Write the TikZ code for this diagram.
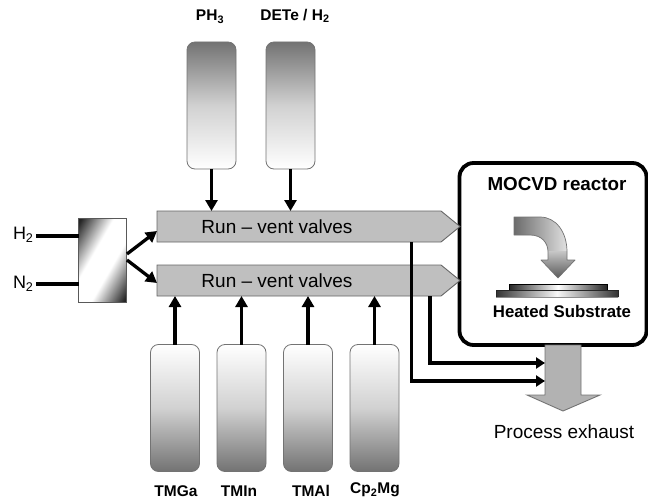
\documentclass[tikz,border=0pt]{standalone}
\usepackage{fontspec}
\setmainfont{Liberation Sans}
\usetikzlibrary{arrows.meta}
\pgfdeclarehorizontalshading{mixshade}{100bp}{color(0bp)=(black);color(18bp)=(black!85);color(41bp)=(white);color(59bp)=(white);color(82bp)=(black!85);color(100bp)=(black)}
\tikzset{
  every node/.style={inner sep=0pt,outer sep=0pt},
  bottle/.style={draw=black!55,line width=0.8pt,rounded corners=8pt,minimum width=49pt,minimum height=127pt},
  topbottle/.style={bottle,top color=black!55,bottom color=white,middle color=black!18},
  botbottle/.style={bottle,top color=white,bottom color=black!55,middle color=black!18},
  pipe/.style={line width=3.3pt,-{Triangle[length=11pt,width=12pt]}},
  plain/.style={line width=3.3pt},
  thinpipe/.style={line width=3.2pt,-{Triangle[length=9pt,width=11pt]}},
  valvebody/.style={minimum width=284pt,minimum height=31pt},
  valvefill/.style={fill=black!25,draw=black!60,line width=0.9pt},
  lab/.style={font=\fontsize{15.5}{18}\selectfont\bfseries},
  biglab/.style={font=\fontsize{19}{22}\selectfont},
  gaslab/.style={font=\fontsize{18}{22}\selectfont},
}
\begin{document}
\begin{tikzpicture}[x=1pt,y=-1pt]
\useasboundingbox (0,0) rectangle (648,500);
% reactor
\node[draw=black,line width=3.8pt,rounded corners=14pt,fill=white,minimum width=187pt,minimum height=182pt] (reactor) at (553,254) {};
\node[font=\fontsize{18.8}{22}\selectfont\bfseries] (rlab) at (557,184) {MOCVD reactor};
\node[font=\fontsize{16.8}{20}\selectfont\bfseries] (hlab) at (562,311) {Heated Substrate};
% curved arrow
\shade[left color=black!58,right color=black!12,draw=none]
 (514,217) -- (540,217) .. controls (556,217) and (567,232) .. (567,252) -- (548,252)
 .. controls (548,243) and (542,235) .. (530,235) -- (514,235) -- cycle;
\shade[top color=black!22,bottom color=black!65,draw=none]
 (548,251) -- (567,251) -- (567,260) -- (575,260) -- (558,278) -- (541,260) -- (548,260) -- cycle;
\draw[black!55,line width=0.7pt,line join=round]
 (514,217) -- (540,217) .. controls (556,217) and (567,232) .. (567,252) -- (567,260) -- (575,260) -- (558,278) -- (541,260) -- (548,260) -- (548,252)
 .. controls (548,243) and (542,235) .. (530,235) -- (514,235) -- cycle;
\shade[left color=black!85,right color=black!85,middle color=white,draw=none] (509,284) rectangle (607,290);
\draw[black,line width=0.8pt] (509,290) -- (509,284) -- (607,284) -- (607,290);
\shade[left color=black!80,right color=black!80,middle color=black!3,draw=none] (496,290) rectangle (618,297);
\draw[black!85,line width=0.8pt] (496,290) -- (618,290) (496,290) -- (496,297) (618,290) -- (618,297);
\draw[black!45,line width=0.5pt] (496,297) -- (618,297);
% gases / mixer
\node[draw=black!65,line width=0.9pt,minimum width=48pt,minimum height=84pt,shading=mixshade,shading angle=-30] (mix) at (102.5,260) {};
\node[gaslab,anchor=west] (h) at (13,235) {H\textsubscript{2}};
\node[gaslab,anchor=west] (n) at (13,284) {N\textsubscript{2}};
\coordinate (hend) at (36,236);
\coordinate (nend) at (36,284);
\draw[plain] (hend) -- (hend -| mix.west);
\draw[plain] (nend) -- (nend -| mix.west);
% valves
\node[valvebody] (v1) at (299,226.5) {};
\node[valvebody] (v2) at (299,280.5) {};
\draw[valvefill] (v1.north west) -- (v1.north east) -- ++(19,15.5) -- (v1.south east) -- (v1.south west) -- cycle;
\draw[valvefill] (v2.north west) -- (v2.north east) -- ++(19,15.5) -- (v2.south east) -- (v2.south west) -- cycle;
\node[biglab] (v1t) at (277,227) {Run – vent valves};
\node[biglab] (v2t) at (277,281) {Run – vent valves};
\coordinate (mu) at (127,254);
\coordinate (ml) at (127,260);
\coordinate (vu) at (157,231);
\coordinate (vl) at (157,283);
\draw[pipe] (mu) -- (vu);
\draw[pipe] (ml) -- (vl);
% bottles
\node[topbottle] (ph) at (211.5,105.5) {};
\node[topbottle] (de) at (290.5,105.5) {};
\node[botbottle] (ga) at (175,408) {};
\node[botbottle] (in) at (241.5,408) {};
\node[botbottle] (al) at (308,408) {};
\node[botbottle] (mg) at (374.5,408) {};
\node[lab] (phl) at (210,17) {PH\textsubscript{3}};
\node[lab] (del) at (295,16) {DETe / H\textsubscript{2}};
\node[lab] (gal) at (176,491) {TMGa};
\node[lab] (inl) at (239,491) {TMIn};
\node[lab] (all) at (311,491) {TMAl};
\node[lab] (mgl) at (375,490) {Cp\textsubscript{2}Mg};
\draw[pipe] (ph.south) -- (ph.south |- v1.north);
\draw[pipe] (de.south) -- (de.south |- v1.north);
\draw[pipe] (ga.north) -- (ga.north |- v2.south);
\draw[pipe] (in.north) -- (in.north |- v2.south);
\draw[pipe] (al.north) -- (al.north |- v2.south);
\draw[pipe] (mg.north) -- (mg.north |- v2.south);
% exhaust
\node[biglab] (exl) at (564,432) {Process exhaust};
\draw[fill=black!30,draw=black!55,line width=0.9pt] (545,345) -- (581,345) -- (581,395) -- (600,395) -- (563,411) -- (527,395) -- (545,395) -- cycle;
\coordinate (t1) at (411.5,242);
\coordinate (t2) at (430,296);
\coordinate (e1) at (545,381);
\coordinate (e2) at (545,363);
\draw[thinpipe] (t1) |- (e1);
\draw[thinpipe] (t2) |- (e2);
\end{tikzpicture}
\end{document}
